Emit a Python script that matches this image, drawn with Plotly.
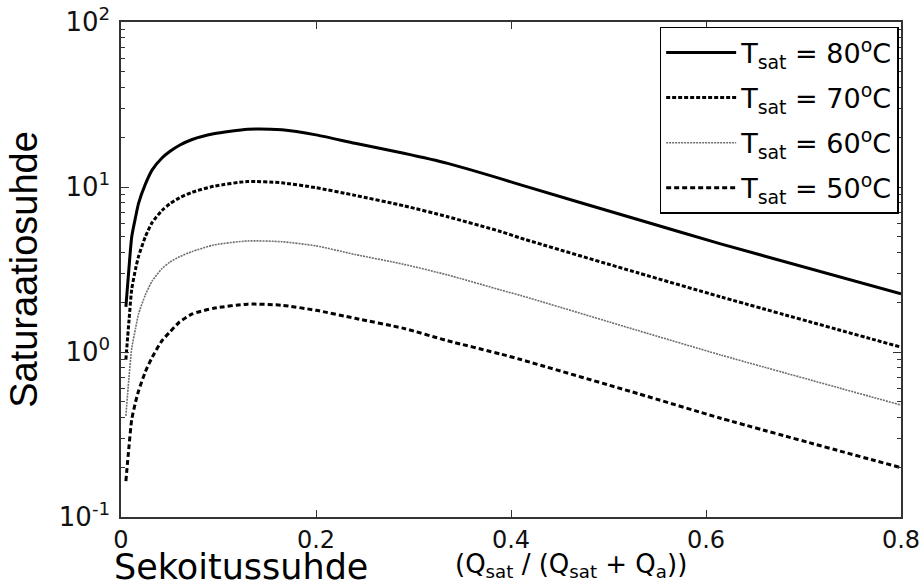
import plotly.graph_objects as go

# Mixing ratio Q_sat / (Q_sat + Q_a)
mix_ratio = [0.005, 0.008, 0.011, 0.015, 0.018, 0.025, 0.032, 0.042, 0.05, 0.06,
             0.073, 0.095, 0.13, 0.165, 0.2, 0.24, 0.29, 0.335, 0.39, 0.41,
             0.53, 0.615, 0.8]

# Saturation ratio for each saturator temperature
sat_80 = [1.88, 3.14, 5.0, 6.6, 7.95, 10.4, 12.7, 15.0, 16.4, 17.9,
          19.4, 21.0, 22.4, 22.2, 20.7, 18.4, 16.0, 13.9, 11.2, 10.3,
          6.35, 4.52, 2.25]
sat_70 = [0.9, 1.5, 2.4, 3.2, 3.8, 5.0, 6.1, 7.2, 7.9, 8.6,
          9.3, 10.1, 10.8, 10.6, 9.9, 8.9, 7.7, 6.6, 5.36, 4.9,
          3.02, 2.16, 1.07]
sat_60 = [0.41, 0.68, 1.05, 1.4, 1.7, 2.22, 2.7, 3.2, 3.5, 3.78,
          4.06, 4.45, 4.71, 4.66, 4.4, 3.9, 3.4, 2.93, 2.37, 2.2,
          1.35, 0.96, 0.477]
sat_50 = [0.165, 0.26, 0.39, 0.5, 0.58, 0.76, 0.93, 1.17, 1.32, 1.52,
          1.7, 1.84, 1.95, 1.92, 1.79, 1.6, 1.39, 1.17, 0.97, 0.9,
          0.56, 0.397, 0.199]

series_names = ["T<sub>sat</sub> = 80<sup>o</sup>C", "T<sub>sat</sub> = 70<sup>o</sup>C",
                "T<sub>sat</sub> = 60<sup>o</sup>C", "T<sub>sat</sub> = 50<sup>o</sup>C"]

x_ticks = [0, 0.2, 0.4, 0.6, 0.8]
x_tick_text = ["0", "0.2", "0.4", "0.6", "0.8"]
y_ticks = [0.1, 1, 10, 100]
y_tick_text = ["10<sup>-1</sup>", "10<sup>0</sup>", "10<sup>1</sup>", "10<sup>2</sup>"]

styles = [
    dict(color="black", width=3, dash="solid"),
    dict(color="black", width=3, dash="4px,2px"),
    dict(color="#6e6e6e", width=1.6, dash="2px,1px"),
    dict(color="black", width=3, dash="5px,3px"),
]

fig = go.Figure()
for i, (name, ys) in enumerate(zip(series_names, [sat_80, sat_70, sat_60, sat_50])):
    fig.add_trace(go.Scatter(
        x=mix_ratio, y=ys, mode="lines", name=name,
        line=dict(shape="spline", smoothing=0.6, **styles[i]),
        legendgroup=f"g{i}",
    ))

minor_vals = [k * 10 ** e for e in (-1, 0, 1) for k in range(2, 10)]

fig.update_layout(
    width=923, height=582,
    margin=dict(l=121, r=22, t=22, b=65, autoexpand=False),
    paper_bgcolor="white", plot_bgcolor="white",
    showlegend=True,
    legend=dict(
        x=0.997, y=0.99, xanchor="right", yanchor="top",
        bgcolor="white", bordercolor="black", borderwidth=1.5,
        font=dict(family="DejaVu Sans", size=27, color="black"),
        tracegroupgap=7, itemwidth=70,
    ),
    font=dict(family="DejaVu Sans", color="black"),
)

fig.update_xaxes(
    range=[0, 0.8], tickvals=x_ticks, ticktext=x_tick_text,
    ticks="inside", ticklen=7, tickcolor="#333", mirror="ticks",
    showline=True, linecolor="#333", linewidth=1.5,
    showgrid=False, zeroline=False, automargin=False,
    ticklabelstandoff=0,
    tickfont=dict(family="DejaVu Sans", size=24, color="#111"),
)
fig.update_yaxes(
    type="log", range=[-1, 2], tickvals=y_ticks, ticktext=y_tick_text,
    ticks="inside", ticklen=8, tickcolor="#333", mirror="ticks",
    showline=True, linecolor="#333", linewidth=1.5,
    showgrid=False, zeroline=False, automargin=False,
    ticklabelstandoff=4,
    tickfont=dict(family="DejaVu Sans", size=26, color="#111"),
    minor=dict(tickvals=minor_vals, ticks="inside", ticklen=4, tickcolor="#333", showgrid=False),
    title=dict(text="Saturaatiosuhde", font=dict(family="Liberation Sans", size=38, color="black"), standoff=10),
)

fig.add_annotation(
    xref="paper", yref="paper", x=-0.012, y=-0.102, xanchor="left", yanchor="middle",
    text="Sekoitussuhde", showarrow=False,
    font=dict(family="DejaVu Sans", size=35, color="black"),
)
fig.add_annotation(
    xref="paper", yref="paper", x=0.425, y=-0.097, xanchor="left", yanchor="middle",
    text="(Q<sub>sat</sub> / (Q<sub>sat</sub> + Q<sub>a</sub>))", showarrow=False,
    font=dict(family="DejaVu Sans", size=26, color="black"),
)

fig.write_html("out.html")
